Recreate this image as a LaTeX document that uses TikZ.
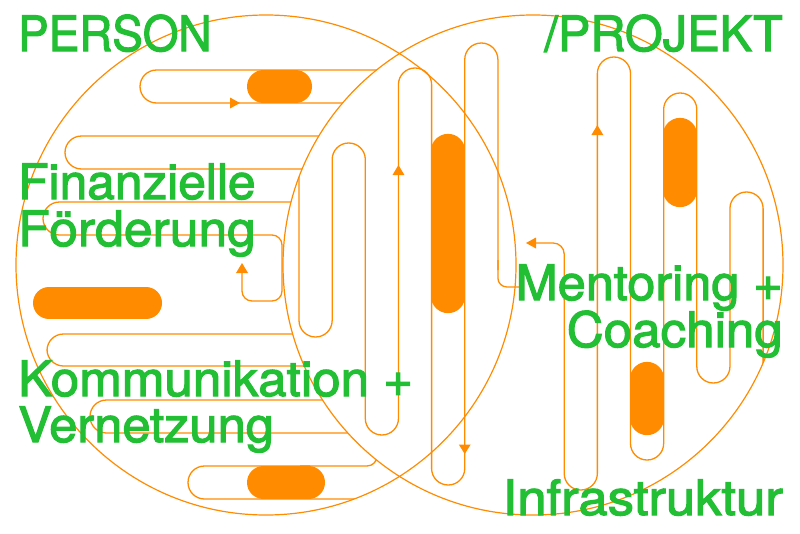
\documentclass[tikz,border=0pt]{standalone}
\usepackage{fontspec}
\setmainfont{TeX Gyre Heros}
\newfontfamily\lblfont{TeX Gyre Heros}[FakeBold=2.2]
\definecolor{ora}{RGB}{255,140,0}
\definecolor{grn}{RGB}{34,190,52}
\tikzset{
  lbl/.style={inner sep=0pt, text=grn, font=\lblfont\fontsize{48.7}{47}\selectfont},
  wire/.style={draw=ora, line width=1.3pt},
  pill/.style={draw=ora, line cap=round},
  tip/.style={fill=ora}
}
\newcommand{\lblwd}[2]{\scalebox{#1}[1]{#2}}
\begin{document}
\begin{tikzpicture}[x=1pt,y=-1pt]
\useasboundingbox (0,0) rectangle (800,533);
\fill[white] (0,0) rectangle (800,533);

% horizontal meanders: visible only in the left circle outside the right circle
\begin{scope}[even odd rule]
\clip (266,265) circle (250pt) (533,265) circle (250pt);
\draw[wire, rounded corners=16.5pt] (420,70) -- (140,70) -- (140,103) -- (420,103);
\draw[wire, rounded corners=16.5pt] (420,136) -- (65,136) -- (65,169) -- (420,169);
\draw[wire, rounded corners=16.5pt] (420,202) -- (43,202) -- (43,235) -- (150,235);
\draw[wire, rounded corners=10pt] (140,235) -- (282,235) -- (282,301) -- (242,301) -- (242,270);
\draw[wire, rounded corners=16.5pt] (420,334) -- (47,334) -- (47,366) -- (420,366);
\draw[wire, rounded corners=16.5pt] (420,400) -- (90,400) -- (90,433) -- (420,433);
\draw[wire, rounded corners=10pt] (377,420) -- (377,466) -- (300,466);
\draw[wire, rounded corners=16.5pt] (310,466) -- (188,466) -- (188,499) -- (420,499);
\end{scope}

% vertical meanders: visible only inside the right circle
\begin{scope}
\clip (533,265) circle (250pt);
\draw[wire, rounded corners=16.5pt] (299,150) -- (299,337) -- (332.15,337) -- (332.15,143) -- (365.3,143) -- (365.3,435) -- (398.45,435) -- (398.45,68) -- (431.6,68) -- (431.6,485) -- (464.75,485) -- (464.75,43) -- (497.9,43) -- (497.9,270);
\draw[wire, rounded corners=9pt] (497.9,260) -- (497.9,287) -- (522,287);
\draw[wire, rounded corners=11pt] (530,243) -- (564.2,243) -- (564.2,300);
\draw[wire, rounded corners=16.5pt] (564.2,290) -- (564.2,490) -- (597.35,490) -- (597.35,57) -- (630.5,57) -- (630.5,460) -- (663.65,460) -- (663.65,93) -- (696.8,93) -- (696.8,383) -- (729.95,383) -- (729.95,192) -- (763.1,192) -- (763.1,420);
\end{scope}

% filled pills
\draw[pill, line width=33pt] (263.5,86.5) -- (295.5,86.5);
\draw[pill, line width=33pt] (263.5,482.5) -- (308.5,482.5);
\draw[pill, line width=32pt] (49,303) -- (146,303);
\draw[pill, line width=33.5pt] (448.2,150.6) -- (448.2,296.4);
\draw[pill, line width=33.5pt] (647.1,378.6) -- (647.1,418.4);
\draw[pill, line width=33.5pt] (680.2,134.6) -- (680.2,190.4);

% arrow heads
\fill[tip] (240,103) -- (230,97.5) -- (230,108.5) -- cycle;
\fill[tip] (398.45,165) -- (392.5,175) -- (404.4,175) -- cycle;
\fill[tip] (464.75,454) -- (458.8,444.5) -- (470.7,444.5) -- cycle;
\fill[tip] (242,263) -- (236,273) -- (248,273) -- cycle;
\fill[tip] (526,243) -- (536,237.5) -- (536,248.5) -- cycle;
\fill[tip] (597.35,125) -- (591.4,135) -- (603.3,135) -- cycle;

% the two circles
\draw[wire, line width=1.2pt] (266,265) circle (250pt);
\draw[wire, line width=1.2pt] (533,265) circle (250pt);

% labels
\node[lbl, anchor=base west] (person) at (18,51) {\lblwd{0.94}{PERSON}};
\node[lbl, anchor=base east] (projekt) at (783,51) {\lblwd{1.0}{/PROJEKT}};
\node[lbl, anchor=base west] (fin1) at (18,199) {\lblwd{1.02}{Finanzielle}};
\node[lbl, anchor=base west] (fin2) at (18,246) {\lblwd{1.06}{Förderung}};
\node[lbl, anchor=base west] (kom1) at (18,396) {\lblwd{1.05}{Kommunikation +}};
\node[lbl, anchor=base west] (kom2) at (18,442) {\lblwd{1.04}{Vernetzung}};
\node[lbl, anchor=base east] (men1) at (783,300) {\lblwd{1.035}{Mentoring +}};
\node[lbl, anchor=base east] (men2) at (783,347) {\lblwd{1.05}{Coaching}};
\node[lbl, anchor=base east] (inf) at (783,515) {\lblwd{1.08}{Infrastruktur}};
\end{tikzpicture}
\end{document}
